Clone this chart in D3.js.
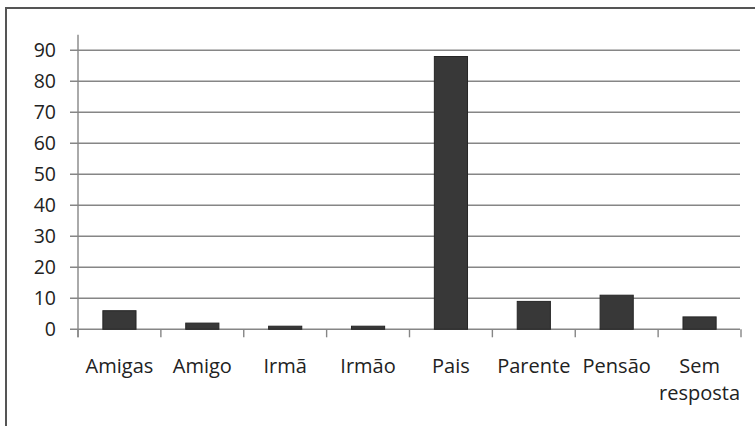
<!DOCTYPE html>
<html>
<head>
<meta charset="utf-8">
<script src="https://cdn.jsdelivr.net/npm/d3@7/dist/d3.min.js"></script>
<style>
  html, body { margin: 0; padding: 0; background: #fff; }
  svg { display: block; }
  text { font-family: "Open Sans", "Noto Sans", sans-serif; fill: #222; }
</style>
</head>
<body>
<svg id="chart" width="755" height="426"></svg>
<script>
// Categories and counts
const categories = ["Amigas", "Amigo", "Irmã", "Irmão", "Pais", "Parente", "Pensão", "Sem resposta"];
const values = [6, 2, 1, 1, 88, 9, 11, 4];
const yTicks = [0, 10, 20, 30, 40, 50, 60, 70, 80, 90];

const svg = d3.select("#chart");

// Outer frame
svg.append("rect")
  .attr("x", 6).attr("y", 8)
  .attr("width", 770).attr("height", 440)
  .attr("fill", "none")
  .attr("stroke", "#555")
  .attr("stroke-width", 2);

const left = 78, right = 741, bottom = 329.3;

const x = d3.scaleBand()
  .domain(categories)
  .range([left, right])
  .paddingInner(0.6)
  .paddingOuter(0.3);

const y = d3.scaleLinear()
  .domain([0, 95])
  .range([bottom, bottom - 95 * 3.1]);

const g = svg.append("g");

// Horizontal gridlines with ticks to the left of the axis
g.selectAll("line.grid")
  .data(yTicks)
  .join("line")
  .attr("class", "grid")
  .attr("x1", left - 8).attr("x2", right - 1)
  .attr("y1", d => y(d)).attr("y2", d => y(d))
  .attr("stroke", "#868686")
  .attr("stroke-width", 1.4);

// Y tick labels
g.selectAll("text.ylab")
  .data(yTicks)
  .join("text")
  .attr("class", "ylab")
  .attr("x", 56)
  .attr("y", d => y(d))
  .attr("dy", "0.35em")
  .attr("text-anchor", "end")
  .attr("font-size", 19.5)
  .text(d => d);

// Vertical axis line
g.append("line")
  .attr("x1", left).attr("x2", left)
  .attr("y1", y(95)).attr("y2", bottom + 8)
  .attr("stroke", "#868686")
  .attr("stroke-width", 1.4);

// Category boundary ticks below the baseline
const step = x.step();
const gap = (step - x.bandwidth()) / 2;
const boundaries = categories.map(c => x(c) - gap).concat([x(categories[categories.length - 1]) + x.bandwidth() + gap]);
g.selectAll("line.xtick")
  .data(boundaries)
  .join("line")
  .attr("class", "xtick")
  .attr("x1", d => d).attr("x2", d => d)
  .attr("y1", bottom).attr("y2", bottom + 8)
  .attr("stroke", "#868686")
  .attr("stroke-width", 1.4);

// Bars
g.selectAll("rect.bar")
  .data(categories)
  .join("rect")
  .attr("class", "bar")
  .attr("x", c => x(c))
  .attr("width", x.bandwidth())
  .attr("y", (c, i) => y(values[i]))
  .attr("height", (c, i) => bottom - y(values[i]))
  .attr("fill", "#383838")
  .attr("stroke", "#262626")
  .attr("stroke-width", 1);

// Category labels (wrap on spaces)
const labels = g.selectAll("text.xlab")
  .data(categories)
  .join("text")
  .attr("class", "xlab")
  .attr("text-anchor", "middle")
  .attr("font-size", 20)
  .attr("x", c => x(c) + x.bandwidth() / 2)
  .attr("y", 373);

labels.each(function(c) {
  const words = c.split(" ");
  const t = d3.select(this);
  words.forEach((w, i) => {
    t.append("tspan")
      .attr("x", x(c) + x.bandwidth() / 2)
      .attr("dy", i === 0 ? 0 : 27)
      .text(w);
  });
});
</script>
</body>
</html>
